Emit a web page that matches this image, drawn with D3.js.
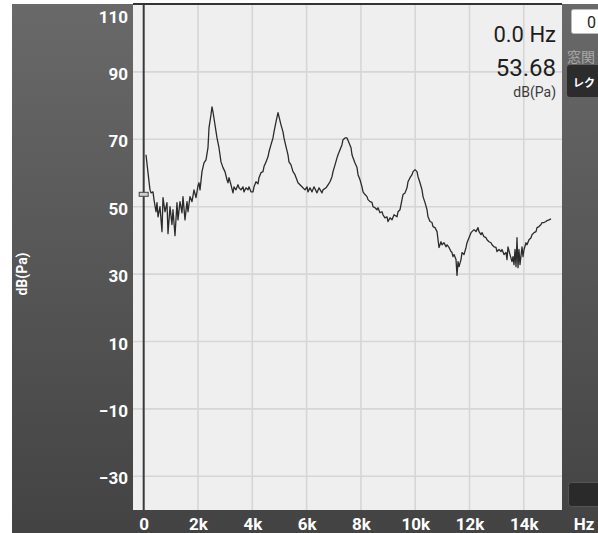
<!DOCTYPE html>
<html>
<head>
<meta charset="utf-8">
<script src="https://cdn.jsdelivr.net/npm/d3@7"></script>
<style>
  html, body { margin: 0; padding: 0; background: #fff; }
  svg { display: block; }
  .tickLabel { font-family: Roboto, "Noto Sans", sans-serif; font-weight: bold; font-size: 17px; fill: #fff; }
  .readout { font-family: Roboto, "Noto Sans", sans-serif; fill: #1e1e1e; }
</style>
</head>
<body>
<svg id="spectrum__svg" width="598" height="533"></svg>
<script>
// spectrum trace, [frequency Hz, level dB(Pa)]
const SPECTRUM = [
  [85, 65.4], [158, 60.1], [232, 55.0], [269, 54.1], [342, 54.4], [379, 52.1], [453, 48.5], [490, 51.2],
  [527, 47.0], [600, 50.0], [674, 42.6], [711, 52.7], [784, 48.5], [858, 51.2], [895, 42.0], [969, 50.0],
  [1042, 44.7], [1079, 49.1], [1153, 41.4], [1226, 51.2], [1263, 46.1], [1337, 51.5], [1411, 48.2], [1447, 53.0],
  [1521, 46.1], [1595, 51.5], [1632, 48.5], [1705, 53.0], [1779, 51.5], [1853, 55.0], [1926, 52.7], [2000, 56.2],
  [2037, 57.1], [2074, 55.0], [2147, 60.4], [2221, 63.0], [2295, 63.9], [2368, 67.5], [2405, 73.4], [2479, 77.3],
  [2516, 79.6], [2553, 78.1], [2626, 74.3], [2700, 70.4], [2773, 67.5], [2847, 63.3], [2921, 61.6], [2994, 60.4],
  [3068, 58.0], [3105, 57.1], [3142, 58.6], [3215, 56.5], [3289, 54.1], [3326, 55.9], [3399, 55.0], [3473, 56.5],
  [3510, 55.6], [3584, 55.0], [3657, 55.9], [3694, 54.4], [3768, 55.6], [3841, 55.0], [3878, 55.9], [3952, 54.4],
  [4026, 54.4], [4063, 55.9], [4136, 57.4], [4210, 56.8], [4247, 58.6], [4320, 60.1], [4394, 60.4], [4431, 61.9],
  [4504, 63.3], [4578, 64.8], [4615, 66.3], [4689, 68.4], [4762, 70.4], [4799, 72.2], [4873, 75.2], [4947, 77.9],
  [4983, 76.7], [5057, 74.3], [5131, 72.2], [5167, 70.4], [5241, 67.8], [5315, 65.4], [5351, 63.3], [5425, 62.4],
  [5499, 60.4], [5572, 59.5], [5683, 57.1], [5830, 55.9], [5941, 55.0], [6015, 55.9], [6052, 54.4], [6125, 55.6],
  [6199, 54.4], [6273, 55.9], [6383, 54.1], [6457, 55.6], [6567, 54.1], [6604, 55.0], [6715, 55.6], [6789, 56.5],
  [6862, 57.4], [6936, 58.9], [6973, 60.4], [7047, 62.4], [7120, 64.5], [7157, 65.4], [7231, 66.9], [7304, 68.4],
  [7341, 69.9], [7415, 70.4], [7488, 70.4], [7562, 69.0], [7636, 67.5], [7673, 65.4], [7710, 64.5], [7783, 63.0],
  [7857, 61.6], [7894, 59.5], [7967, 58.0], [8041, 55.9], [8078, 54.4], [8151, 53.6], [8225, 53.0], [8262, 52.1],
  [8336, 51.5], [8409, 51.3], [8446, 50.0], [8520, 49.7], [8593, 49.1], [8630, 49.7], [8704, 48.2], [8778, 48.5],
  [8814, 47.6], [8888, 46.7], [8962, 47.0], [8999, 45.6], [9072, 46.7], [9146, 46.1], [9220, 47.6], [9330, 47.0],
  [9367, 48.5], [9441, 49.1], [9514, 52.1], [9551, 53.6], [9625, 54.1], [9698, 55.6], [9735, 57.4], [9809, 58.6],
  [9883, 59.5], [9920, 60.4], [9993, 61.0], [10067, 60.4], [10104, 58.9], [10177, 57.1], [10251, 55.0], [10288, 53.0],
  [10362, 51.2], [10435, 49.1], [10472, 47.0], [10546, 45.6], [10620, 45.3], [10656, 44.1], [10730, 43.8], [10804, 42.6],
  [10841, 40.2], [10877, 37.9], [10951, 39.6], [10988, 38.7], [11061, 39.3], [11135, 38.1], [11172, 38.7], [11246, 37.9],
  [11319, 36.7], [11356, 36.4], [11393, 35.2], [11430, 35.8], [11503, 34.3], [11540, 29.6], [11577, 33.7], [11614, 32.2],
  [11687, 34.3], [11724, 36.4], [11798, 35.8], [11872, 37.9], [11908, 39.3], [11982, 40.8], [12056, 42.3], [12092, 42.6],
  [12166, 43.2], [12240, 42.6], [12313, 43.8], [12350, 42.6], [12424, 41.7], [12461, 42.3], [12534, 41.1], [12608, 40.8],
  [12645, 40.2], [12718, 39.6], [12792, 39.3], [12829, 38.7], [12903, 38.1], [12976, 37.9], [13013, 36.7], [13087, 37.3],
  [13160, 36.7], [13197, 37.3], [13271, 35.8], [13345, 36.4], [13381, 34.3], [13418, 38.1], [13492, 35.8], [13565, 33.7],
  [13602, 35.2], [13639, 32.8], [13676, 37.3], [13713, 32.2], [13750, 40.8], [13787, 31.9], [13823, 37.3], [13860, 32.8],
  [13934, 38.1], [13971, 35.2], [14008, 37.3], [14081, 39.3], [14118, 38.7], [14192, 40.2], [14265, 40.8], [14302, 41.7],
  [14376, 42.3], [14450, 42.6], [14487, 43.8], [14560, 44.1], [14634, 44.7], [14671, 45.3], [14744, 45.3], [14818, 45.6],
  [14855, 45.9], [14929, 46.1], [15002, 46.4]
];

const X_DOMAIN = [-394, 15407];
const Y_DOMAIN = [-40, 110];
const X_TICKS = [0, 2000, 4000, 6000, 8000, 10000, 12000, 14000];
const X_TICK_LABELS = ["0", "2k", "4k", "6k", "8k", "10k", "12k", "14k"];
const Y_TICKS = [110, 90, 70, 50, 30, 10, -10, -30];
const CURSOR_HZ = 0.0;
const CURSOR_DB = 53.68;

const SVG = d3.select("#spectrum__svg");
const PLOT = { left: 133, right: 562, top: 4.5, bottom: 510 };

const xScale = d3.scaleLinear().domain(X_DOMAIN).range([PLOT.left, PLOT.right]);
const yScale = d3.scaleLinear().domain(Y_DOMAIN).range([PLOT.bottom, PLOT.top]);

// frame / panels
const defs = SVG.append("defs");
const grad = defs.append("linearGradient").attr("id", "panelGrad")
  .attr("x1", 0).attr("y1", 0).attr("x2", 0).attr("y2", 1);
grad.append("stop").attr("offset", "0%").attr("stop-color", "#696969");
grad.append("stop").attr("offset", "100%").attr("stop-color", "#434343");
defs.append("clipPath").attr("id", "plotClip")
  .append("rect")
  .attr("x", PLOT.left).attr("y", PLOT.top)
  .attr("width", PLOT.right - PLOT.left).attr("height", PLOT.bottom - PLOT.top);

SVG.append("rect")
  .attr("x", 12).attr("y", 4).attr("width", 586).attr("height", 529)
  .attr("fill", "url(#panelGrad)");
SVG.append("rect")
  .attr("x", PLOT.left).attr("y", PLOT.top)
  .attr("width", PLOT.right - PLOT.left).attr("height", PLOT.bottom - PLOT.top)
  .attr("fill", "#efefef");

// grid
SVG.append("g")
  .attr("class", "grid")
  .selectAll("line")
  .data(Y_TICKS.filter((d) => d < Y_DOMAIN[1]))
  .join("line")
  .attr("x1", PLOT.left).attr("x2", PLOT.right)
  .attr("y1", (d) => yScale(d)).attr("y2", (d) => yScale(d))
  .attr("stroke", "#d6d6d6").attr("stroke-width", 1.6);
SVG.append("g")
  .attr("class", "grid")
  .selectAll("line")
  .data(X_TICKS.filter((d) => d > 0))
  .join("line")
  .attr("x1", (d) => xScale(d)).attr("x2", (d) => xScale(d))
  .attr("y1", PLOT.top).attr("y2", PLOT.bottom)
  .attr("stroke", "#d6d6d6").attr("stroke-width", 1.6);

SVG.append("line")
  .attr("x1", PLOT.left).attr("x2", PLOT.right)
  .attr("y1", PLOT.top - 0.5).attr("y2", PLOT.top - 0.5)
  .attr("stroke", "#333").attr("stroke-width", 2);

// cursor
SVG.append("line")
  .attr("x1", xScale(CURSOR_HZ)).attr("x2", xScale(CURSOR_HZ))
  .attr("y1", PLOT.top).attr("y2", PLOT.bottom)
  .attr("stroke", "#3a3a3a").attr("stroke-width", 2);
SVG.append("rect")
  .attr("x", xScale(CURSOR_HZ) - 4.5).attr("y", yScale(CURSOR_DB) - 2)
  .attr("width", 9).attr("height", 4)
  .attr("fill", "#d0d0d0").attr("stroke", "#444").attr("stroke-width", 1);

// spectrum
SVG.append("path")
  .datum(SPECTRUM)
  .attr("clip-path", "url(#plotClip)")
  .attr("d", d3.line().x((d) => xScale(d[0])).y((d) => yScale(d[1])))
  .attr("fill", "none")
  .attr("stroke", "#2b2b2b")
  .attr("stroke-width", 1.3)
  .attr("stroke-linejoin", "round");

// axes
const yAxis = SVG.append("g")
  .attr("transform", "translate(" + (PLOT.left - 5) + ",0)")
  .call(d3.axisLeft(yScale).tickValues(Y_TICKS).tickSize(0).tickPadding(0));
yAxis.select(".domain").remove();
yAxis.selectAll("text")
  .attr("class", "tickLabel")
  .attr("x", 0)
  .attr("dy", (d) => (d === Y_DOMAIN[1] ? "1.05em" : "0.45em"))
  .attr("fill", null);

const xAxis = SVG.append("g")
  .attr("transform", "translate(0," + PLOT.bottom + ")")
  .call(d3.axisBottom(xScale).tickValues(X_TICKS)
    .tickFormat((d, i) => X_TICK_LABELS[i]).tickSize(0));
xAxis.select(".domain").remove();
xAxis.selectAll("text")
  .attr("class", "tickLabel")
  .attr("y", 20).attr("dy", 0)
  .attr("fill", null);
SVG.append("text")
  .attr("class", "tickLabel")
  .attr("x", 584).attr("y", PLOT.bottom + 20)
  .attr("text-anchor", "middle")
  .text("Hz");

SVG.append("text")
  .attr("class", "tickLabel")
  .attr("transform", "translate(27,274) rotate(-90)")
  .attr("text-anchor", "middle")
  .style("font-size", "14px")
  .text("dB(Pa)");

// readout
SVG.append("text").attr("class", "readout")
  .attr("x", 556).attr("y", 42).attr("text-anchor", "end")
  .style("font-size", "22px")
  .text(CURSOR_HZ.toFixed(1) + " Hz");
SVG.append("text").attr("class", "readout")
  .attr("x", 556).attr("y", 76).attr("text-anchor", "end")
  .style("font-size", "24px")
  .text(CURSOR_DB.toFixed(2));
SVG.append("text").attr("class", "readout")
  .attr("x", 556).attr("y", 97).attr("text-anchor", "end")
  .style("font-size", "14px").style("fill", "#3a3a3a")
  .text("dB(Pa)");

// side controls, only the parts inside the window
SVG.append("rect")
  .attr("x", 571.5).attr("y", 9.5).attr("width", 40).attr("height", 24).attr("rx", 2)
  .attr("fill", "#fff").attr("stroke", "#bbb");
SVG.append("text").attr("class", "readout")
  .attr("x", 587).attr("y", 28).style("font-size", "16px").text("0");
SVG.append("text")
  .attr("x", 567).attr("y", 62)
  .style("font-family", "'Noto Sans CJK JP', sans-serif").style("font-size", "14px")
  .attr("fill", "#a8a8a8")
  .text("窓関");
SVG.append("rect")
  .attr("x", 567).attr("y", 65).attr("width", 40).attr("height", 32).attr("rx", 3)
  .attr("fill", "#2c2c2c");
SVG.append("text")
  .attr("x", 573).attr("y", 87)
  .style("font-family", "'Noto Sans CJK JP', sans-serif").style("font-size", "11px")
  .style("font-weight", "bold").attr("fill", "#fff")
  .text("レク");
SVG.append("rect")
  .attr("x", 568.5).attr("y", 482.5).attr("width", 40).attr("height", 24).attr("rx", 3)
  .attr("fill", "#2a2a2a").attr("stroke", "#555");
</script>
</body>
</html>
